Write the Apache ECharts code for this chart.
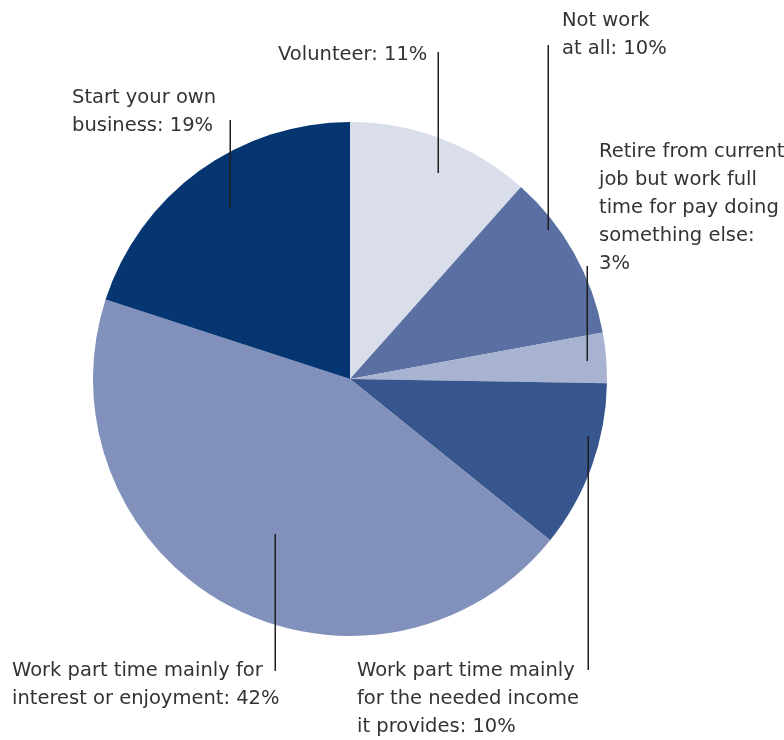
<!DOCTYPE html>
<html>
<head>
<meta charset="utf-8">
<title>Retirement plans</title>
<script src="https://cdn.jsdelivr.net/npm/echarts@6/dist/echarts.min.js"></script>
<style>
  html, body { margin: 0; padding: 0; background: #ffffff; }
  #chart { width: 784px; height: 740px; }
</style>
</head>
<body>
<div id="chart"></div>
<script>
// Categories, clockwise from twelve o'clock (line breaks as they are set in the labels)
const categories = [
  'Volunteer',
  'Not work\nat all',
  'Retire from current\njob but work full\ntime for pay doing\nsomething else',
  'Work part time mainly\nfor the needed income\nit provides',
  'Work part time mainly for\ninterest or enjoyment',
  'Start your own\nbusiness'
];
// Share of respondents, percent
const values = [11, 10, 3, 10, 42, 19];
// Put the percentage on its own line after the colon
const valueOnNewLine = [false, false, true, false, false, false];
const colors = ['#d9deea', '#5a6fa2', '#a8b3d1', '#36568d', '#8291bb', '#053672'];

// Pie geometry (pixels)
const CX = 350, CY = 379, R = 257;

// Callout layout: where the leader starts inside its slice (fraction of the slice's
// sweep, fraction of the radius), where the text block sits, and where the vertical
// leader ends.
const callouts = [
  { t: 0.553, f: 0.871, textX: 278, textY: 41,  lineEnd: 52 },
  { t: 0.299, f: 0.963, textX: 562, textY: 7,   lineEnd: 45 },
  { t: 0.534, f: 0.924, textX: 599, textY: 138, lineEnd: 266 },
  { t: 0.331, f: 0.951, textX: 357, textY: 657, lineEnd: 670 },
  { t: 0.4835, f: 0.670, textX: 12, textY: 657, lineEnd: 671 },
  { t: 0.511, f: 0.810, textX: 72, textY: 84,  lineEnd: 120 }
];

const total = values.reduce((a, b) => a + b, 0);

// Inner end of a leader line, derived from the slice's angular extent
function leaderStart(i) {
  let before = 0;
  for (let k = 0; k < i; k++) before += values[k];
  const a0 = before / total * 2 * Math.PI;
  const sweep = values[i] / total * 2 * Math.PI;
  const a = a0 + callouts[i].t * sweep;
  const r = callouts[i].f * R;
  return [CX + r * Math.sin(a), CY - r * Math.cos(a)];
}

const pieBase = {
  type: 'pie',
  center: [CX, CY],
  radius: R,
  startAngle: 90,
  clockwise: true,
  avoidLabelOverlap: false,
  silent: true,
  emphasis: { disabled: true }
};

const chart = echarts.init(document.getElementById('chart'), null, { renderer: 'canvas' });

chart.setOption({
  animation: false,
  backgroundColor: '#ffffff',
  series: [
    // Filled slices
    Object.assign({}, pieBase, {
      z: 2,
      itemStyle: { borderWidth: 0 },
      label: { show: false },
      labelLine: { show: false },
      data: categories.map((name, i) => ({
        name: name,
        value: values[i],
        itemStyle: { color: colors[i] }
      }))
    }),
    // Same slices, unfilled, carrying the callouts so their leaders sit above the fills
    Object.assign({}, pieBase, {
      z: 3,
      itemStyle: { color: 'rgba(0,0,0,0)', borderWidth: 0 },
      data: categories.map((name, i) => ({ name: name, value: values[i] })),
      label: {
        show: true,
        position: 'outside',
        formatter: p => p.name + ':' + (valueOnNewLine[p.dataIndex] ? '\n' : ' ') + p.value + '%',
        fontFamily: 'DejaVu Sans',
        fontSize: 19.5,
        lineHeight: 28,
        color: '#333333',
        align: 'left'
      },
      labelLine: {
        show: true,
        smooth: false,
        lineStyle: { color: '#1e1e1e', width: 1.5 }
      },
      labelLayout: function (params) {
        const i = params.dataIndex;
        const c = callouts[i];
        const s = leaderStart(i);
        const x = Math.round(s[0]) + 0.25;
        return {
          x: c.textX,
          y: c.textY,
          align: 'left',
          verticalAlign: 'top',
          labelLinePoints: [[x, s[1]], [x, (s[1] + c.lineEnd) / 2], [x, c.lineEnd]]
        };
      }
    })
  ]
});
</script>
</body>
</html>
